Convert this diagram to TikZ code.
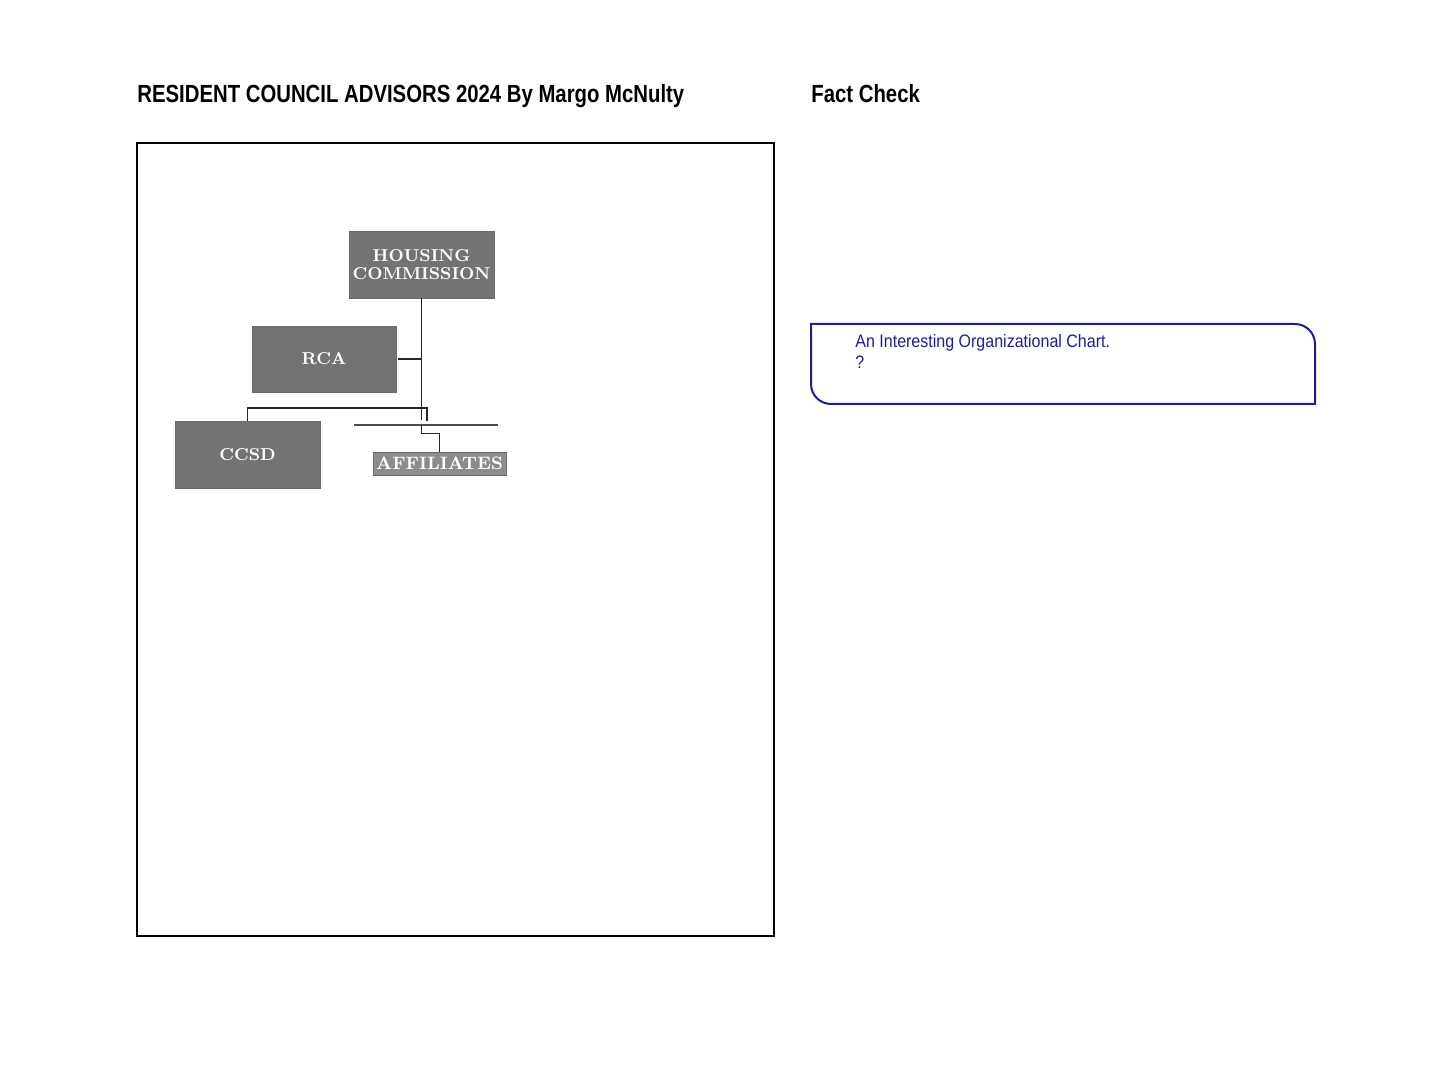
\documentclass[tikz,border=0pt]{standalone}
\usepackage{fontspec}
\usepackage{tikz}
\usetikzlibrary{calc}
\newfontfamily\narrowsans[FakeStretch=0.82]{Liberation Sans}
\newfontfamily\notesans[FakeStretch=0.89]{Liberation Sans}
\definecolor{factblue}{RGB}{30,30,140}
\tikzset{
	orgbox/.style={draw=black!58, line width=0.4pt, fill=black!55, text=white, inner sep=0pt, font=\bfseries\fontsize{8.6}{9}\selectfont, align=center},
	link/.style={line width=0.8pt, color=black!85},
}

\begin{document}
\begin{tikzpicture}[x=0.5pt, y=0.5pt]
		%%%%% START %%%%%
		
		\useasboundingbox (0, 0) rectangle (1440, -1080);
		
		\node[anchor=base west, inner sep=0pt, font=\narrowsans\bfseries\fontsize{12.4}{14}\selectfont] (title) at (137, -103) {RESIDENT COUNCIL ADVISORS 2024 By Margo McNulty};
		\node[anchor=base west, inner sep=0pt, font=\narrowsans\bfseries\fontsize{12.4}{14}\selectfont] (factcheck) at (811, -103) {Fact Check};
		
		\draw[line width=1pt] (137, -143) rectangle (774, -936);
		
		\node[orgbox, minimum width=72.5pt, minimum height=33.5pt] (housing) at (421.5, -264.5) {HOUSING\\COMMISSION};
		\node[orgbox, minimum width=72pt, minimum height=33pt] (rca) at (324, -359) {RCA};
		\node[orgbox, minimum width=72.5pt, minimum height=33.5pt] (ccsd) at (247.5, -454.5) {CCSD};
		\node[orgbox, fill=black!45, font=\bfseries\fontsize{9}{9}\selectfont, minimum width=66.5pt, minimum height=11.5pt] (affil) at (439.5, -463.5) {AFFILIATES};
		
		\coordinate (spine) at (421, -420);
		\coordinate (bar) at (427, -408);
		\coordinate (rule-l) at (354, -425);
		\coordinate (rule-r) at (498, -425);
		
		\draw[link] (housing.south) -- (housing.south |- spine);
		\draw[link] ($(rca.east)+(2,0)$) -- (rca.east -| housing.south);
		\draw[link] (ccsd.north) |- (bar) -- ++(0, -13);
		\draw[line width=0.6pt, color=black!70] (rule-l) -- (rule-r);
		\draw[link] (affil.north) -- ++(0, 18) -| (housing.south |- rule-l);
		
		\draw[line width=1pt, color=factblue] (811, -324) -- (1295, -324) arc (90:0:10pt) -- (1315, -404) -- (831, -404) arc (270:180:10pt) -- cycle;
		\node[anchor=base west, inner sep=0pt, text=factblue, font=\notesans\fontsize{9}{10}\selectfont] (note) at (855, -348) {An Interesting Organizational Chart.};
		\node[anchor=base west, inner sep=0pt, text=factblue, font=\notesans\fontsize{9}{10}\selectfont] (query) at (855, -369) {?};
		
		%%%%% END %%%%%
\end{tikzpicture}
\end{document}
